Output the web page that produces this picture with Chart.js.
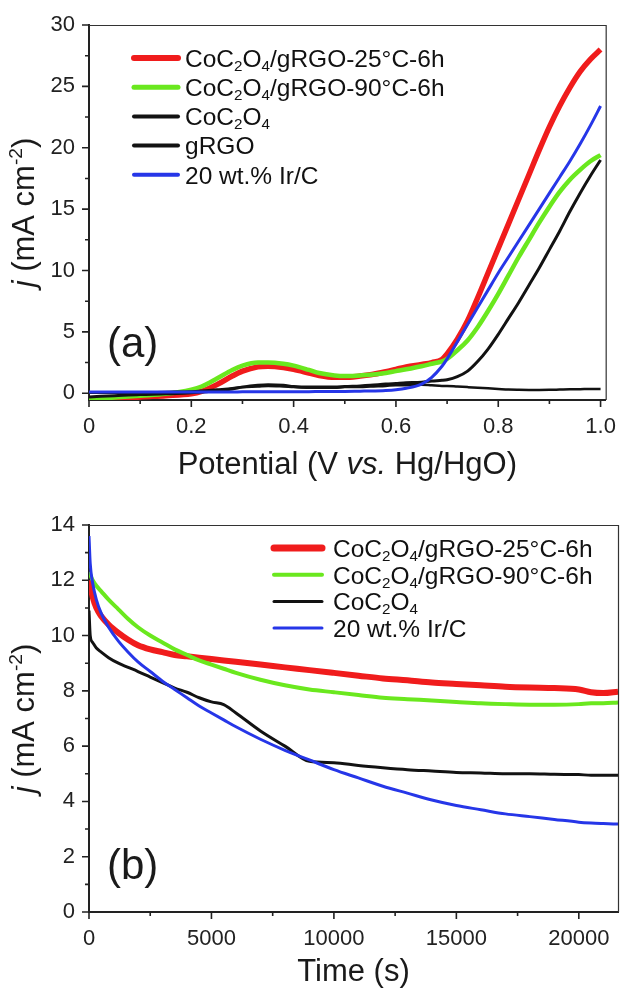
<!DOCTYPE html>
<html>
<head>
<meta charset="utf-8">
<script src="https://cdn.jsdelivr.net/npm/chart.js@4/dist/chart.umd.min.js"></script>
<style>
body { margin: 0; background: #fff; }
canvas { position: absolute; left: 0; }
#chartA { top: 0; }
#chartB { top: 500px; }
</style>
</head>
<body>
<canvas id="chartA" width="632" height="500"></canvas>
<canvas id="chartB" width="632" height="499"></canvas>
<script>
const FONT = "'Liberation Sans', Arial, Helvetica, sans-serif";

// ---- (a) LSV curves ----
const potential = [0, 0.05, 0.1, 0.15, 0.2, 0.22, 0.25, 0.28, 0.3, 0.33, 0.35, 0.38, 0.4, 0.43, 0.45, 0.48, 0.5, 0.53, 0.55, 0.58, 0.6, 0.62, 0.65, 0.67, 0.69, 0.7, 0.72, 0.74, 0.76, 0.78, 0.8, 0.82, 0.84, 0.86, 0.88, 0.9, 0.92, 0.94, 0.96, 0.98, 1.0];
const lsvRed25 = [-0.6, -0.45, -0.3, -0.2, -0.05, 0.15, 0.7, 1.4, 1.8, 2.15, 2.2, 2.1, 1.95, 1.65, 1.45, 1.3, 1.3, 1.4, 1.5, 1.75, 1.95, 2.15, 2.35, 2.5, 2.75, 3.2, 4.4, 5.9, 7.8, 9.8, 11.8, 13.8, 15.8, 17.8, 19.8, 21.7, 23.4, 24.9, 26.2, 27.2, 28.0];
const lsvGreen90 = [-0.5, -0.35, -0.2, -0.05, 0.3, 0.55, 1.2, 1.9, 2.25, 2.5, 2.5, 2.4, 2.25, 1.9, 1.65, 1.45, 1.4, 1.45, 1.5, 1.65, 1.8, 1.95, 2.2, 2.4, 2.6, 2.8, 3.5, 4.3, 5.4, 6.7, 8.1, 9.6, 11.1, 12.5, 13.9, 15.2, 16.4, 17.4, 18.2, 18.9, 19.4];
const lsvCoC2O4 = [-0.3, -0.2, -0.1, -0.05, 0.05, 0.1, 0.2, 0.35, 0.5, 0.65, 0.7, 0.65, 0.55, 0.5, 0.5, 0.5, 0.55, 0.6, 0.65, 0.75, 0.8, 0.85, 0.9, 1.0, 1.05, 1.1, 1.35, 1.8, 2.6, 3.6, 4.8, 6.1, 7.4, 8.8, 10.2, 11.7, 13.2, 14.8, 16.3, 17.7, 19.0];
const lsvGRGO = [0.05, 0.05, 0.05, 0.1, 0.15, 0.2, 0.3, 0.4, 0.5, 0.55, 0.6, 0.55, 0.5, 0.45, 0.45, 0.45, 0.5, 0.5, 0.55, 0.6, 0.65, 0.65, 0.7, 0.65, 0.6, 0.6, 0.55, 0.5, 0.45, 0.4, 0.35, 0.3, 0.28, 0.27, 0.27, 0.28, 0.3, 0.32, 0.33, 0.35, 0.35];
const lsvIrC = [0.1, 0.1, 0.1, 0.1, 0.1, 0.1, 0.1, 0.1, 0.12, 0.12, 0.12, 0.12, 0.13, 0.13, 0.14, 0.15, 0.15, 0.17, 0.18, 0.22, 0.28, 0.4, 0.75, 1.3, 2.2, 2.8, 4.2, 5.6, 7.0, 8.4, 9.8, 11.1, 12.4, 13.7, 15.0, 16.3, 17.6, 18.9, 20.3, 21.8, 23.4];
const seriesNamesA = ['CoC_{2}O_{4}/gRGO-25°C-6h', 'CoC_{2}O_{4}/gRGO-90°C-6h', 'CoC_{2}O_{4}', 'gRGO', '20 wt.% Ir/C'];
const ticksAX = [0, 0.2, 0.4, 0.6, 0.8, 1.0];
const tickLabelsAX = ['0', '0.2', '0.4', '0.6', '0.8', '1.0'];
const ticksAY = [0, 5, 10, 15, 20, 25, 30];

// ---- (b) chronoamperometry ----
const time = [0, 50, 150, 300, 500, 800, 1200, 1600, 2000, 2500, 3000, 3500, 4000, 4500, 5000, 5500, 6000, 7000, 8000, 9000, 10000, 11000, 12000, 13000, 14000, 15000, 16000, 17000, 18000, 19000, 20000, 20500, 21000, 21600];
const itRed25 = [12.0, 11.8, 11.4, 11.0, 10.7, 10.4, 10.1, 9.85, 9.65, 9.5, 9.4, 9.3, 9.25, 9.2, 9.15, 9.1, 9.05, 8.95, 8.85, 8.75, 8.65, 8.55, 8.45, 8.38, 8.3, 8.25, 8.2, 8.15, 8.12, 8.1, 8.05, 7.95, 7.92, 7.97];
const itGreen90 = [12.3, 12.2, 12.0, 11.8, 11.6, 11.3, 10.95, 10.6, 10.3, 10.0, 9.75, 9.5, 9.3, 9.1, 8.95, 8.8, 8.65, 8.4, 8.2, 8.05, 7.95, 7.85, 7.75, 7.7, 7.65, 7.6, 7.55, 7.52, 7.5, 7.5, 7.52, 7.55, 7.55, 7.58];
const itCoC2O4 = [10.9, 10.0, 9.75, 9.55, 9.4, 9.2, 9.0, 8.85, 8.7, 8.5, 8.3, 8.1, 7.95, 7.75, 7.6, 7.5, 7.2, 6.55, 6.0, 5.45, 5.4, 5.3, 5.22, 5.15, 5.1, 5.05, 5.03, 5.0, 5.0, 4.98, 4.97, 4.95, 4.95, 4.95];
const itIrC = [13.6, 12.6, 11.9, 11.3, 10.8, 10.3, 9.8, 9.4, 9.05, 8.7, 8.35, 8.05, 7.75, 7.45, 7.2, 6.95, 6.7, 6.25, 5.85, 5.5, 5.15, 4.85, 4.55, 4.3, 4.05, 3.85, 3.7, 3.55, 3.45, 3.35, 3.25, 3.22, 3.2, 3.18];
const seriesNamesB = ['CoC_{2}O_{4}/gRGO-25°C-6h', 'CoC_{2}O_{4}/gRGO-90°C-6h', 'CoC_{2}O_{4}', '20 wt.% Ir/C'];
const ticksBX = [0, 5000, 10000, 15000, 20000];
const ticksBY = [0, 2, 4, 6, 8, 10, 12, 14];

const RED = '#f01c1c', GREEN = '#6ae81e', BLACK = '#121212', BLUE = '#2636e8';

// tiny rich text: _{sub} ^{sup} *italic*
function parseRich(s) {
  const segs = [];
  const re = /_\{([^}]*)\}|\^\{([^}]*)\}|\*([^*]*)\*|([^_^*]+)/g;
  let m;
  while ((m = re.exec(s))) {
    if (m[1] !== undefined) segs.push({t: m[1], mode: 'sub'});
    else if (m[2] !== undefined) segs.push({t: m[2], mode: 'sup'});
    else if (m[3] !== undefined) segs.push({t: m[3], mode: 'it'});
    else segs.push({t: m[4], mode: ''});
  }
  return segs;
}
function segFont(g, size) {
  const sz = (g.mode === 'sub' || g.mode === 'sup') ? size * 0.62 : size;
  return (g.mode === 'it' ? 'italic ' : '') + sz + 'px ' + FONT;
}
function drawRich(ctx, s, x, y, size, align) {
  const segs = parseRich(s);
  let w = 0;
  segs.forEach(g => { ctx.font = segFont(g, size); g.w = ctx.measureText(g.t).width; w += g.w; });
  let cx = align === 'center' ? x - w / 2 : x;
  ctx.textAlign = 'left';
  ctx.textBaseline = 'alphabetic';
  segs.forEach(g => {
    ctx.font = segFont(g, size);
    const dy = g.mode === 'sub' ? size * 0.17 : g.mode === 'sup' ? -size * 0.38 : 0;
    ctx.fillText(g.t, cx, y + dy);
    cx += g.w;
  });
}

function mids(arr) {
  const out = [];
  for (let i = 0; i < arr.length - 1; i++) out.push((arr[i] + arr[i + 1]) / 2);
  return out;
}

const TITLE_SIZE = 31;
const LEGEND_SIZE = 24.5;

const framePlugin = {
  id: 'frame',
  afterDraw(chart, args, o) {
    const ctx = chart.ctx;
    const {left, right, top, bottom} = chart.chartArea;
    const xs = chart.scales.x, ys = chart.scales.y;
    ctx.save();
    ctx.strokeStyle = '#333';
    ctx.lineWidth = 1.2;
    ctx.beginPath();
    ctx.moveTo(left, top + 0.5);
    ctx.lineTo(right + 0.5, top + 0.5);
    ctx.lineTo(right + 0.5, bottom);
    ctx.stroke();

    ctx.strokeStyle = '#222';
    ctx.lineWidth = 1.6;
    ctx.beginPath();
    o.xMajor.forEach(v => { const p = xs.getPixelForValue(v); ctx.moveTo(p, bottom); ctx.lineTo(p, bottom + 7); });
    mids(o.xMajor).forEach(v => { const p = xs.getPixelForValue(v); ctx.moveTo(p, bottom); ctx.lineTo(p, bottom + 4); });
    o.yMajor.forEach(v => { const p = ys.getPixelForValue(v); ctx.moveTo(left, p); ctx.lineTo(left - 7, p); });
    mids(o.yMajor).forEach(v => { const p = ys.getPixelForValue(v); ctx.moveTo(left, p); ctx.lineTo(left - 4, p); });
    ctx.stroke();

    ctx.fillStyle = '#1a1a1a';
    drawRich(ctx, o.xTitle, (left + right) / 2, o.xTitleY, TITLE_SIZE, 'center');
    drawRich(ctx, o.panel, o.panelX, o.panelY, 42, 'left');

    // legend
    chart.data.datasets.forEach((ds, i) => {
      const y = o.legY + i * o.legGap;
      ctx.strokeStyle = ds.borderColor;
      ctx.lineWidth = o.legWidths[i];
      ctx.lineCap = 'round';
      ctx.beginPath();
      ctx.moveTo(o.legX0, y);
      ctx.lineTo(o.legX1, y);
      ctx.stroke();
      ctx.fillStyle = '#111';
      drawRich(ctx, ds.label, o.legTextX, y + 8.8, LEGEND_SIZE, 'left');
    });

    ctx.translate(o.yTitleX, (top + bottom) / 2);
    ctx.rotate(-Math.PI / 2);
    ctx.fillStyle = '#1a1a1a';
    drawRich(ctx, o.yTitle, 0, TITLE_SIZE * 0.36, TITLE_SIZE, 'center');
    ctx.restore();
  }
};

function line(label, xs, ys, color, width, order) {
  return {
    label: label,
    data: xs.map((x, i) => ({x: x, y: ys[i]})),
    borderColor: color,
    borderWidth: width,
    pointRadius: 0,
    cubicInterpolationMode: 'monotone',
    order: order
  };
}

function axes(xMin, xMax, xTicks, xLabel, yMin, yMax, yTicks, xHeight) {
  const tickFont = {family: FONT, size: 22, lineHeight: 1};
  return {
    x: {
      type: 'linear', min: xMin, max: xMax,
      afterBuildTicks: s => { s.ticks = xTicks.map(v => ({value: v})); },
      afterFit: s => { s.height = xHeight; },
      ticks: {font: tickFont, color: '#222', padding: 16, maxRotation: 0, callback: xLabel},
      grid: {display: false, drawTicks: false},
      border: {display: true, color: '#222', width: 2}
    },
    y: {
      type: 'linear', min: yMin, max: yMax,
      afterBuildTicks: s => { s.ticks = yTicks.map(v => ({value: v})); },
      afterFit: s => { s.width = 89; },
      ticks: {font: tickFont, color: '#222', padding: 14, callback: v => String(v)},
      grid: {display: false, drawTicks: false},
      border: {display: true, color: '#222', width: 2}
    }
  };
}

new Chart(document.getElementById('chartA').getContext('2d'), {
  type: 'line',
  data: {
    datasets: [
      line(seriesNamesA[0], potential, lsvRed25, RED, 5.5, 5),
      line(seriesNamesA[1], potential, lsvGreen90, GREEN, 4.5, 4),
      line(seriesNamesA[2], potential, lsvCoC2O4, BLACK, 3, 3),
      line(seriesNamesA[3], potential, lsvGRGO, BLACK, 2.5, 2),
      line(seriesNamesA[4], potential, lsvIrC, BLUE, 3, 1)
    ]
  },
  options: {
    responsive: false,
    animation: false,
    devicePixelRatio: 1,
    layout: {padding: {top: 12, right: 14, left: 0, bottom: 0}},
    scales: axes(0, 1.01, ticksAX, v => tickLabelsAX[ticksAX.indexOf(v)], -0.55, 30, ticksAY, 100),
    plugins: {
      legend: {display: false},
      tooltip: {enabled: false},
      frame: {
        xMajor: ticksAX, yMajor: ticksAY,
        xTitle: 'Potential (V *vs.* Hg/HgO)', xTitleY: 474,
        yTitle: '*j* (mA cm^{-2})', yTitleX: 23,
        panel: '(a)', panelX: 107, panelY: 357,
        legX0: 134, legX1: 178, legTextX: 185, legY: 58, legGap: 29.2,
        legWidths: [6, 5, 4, 4, 4]
      }
    }
  },
  plugins: [framePlugin]
});

new Chart(document.getElementById('chartB').getContext('2d'), {
  type: 'line',
  data: {
    datasets: [
      line(seriesNamesB[0], time, itRed25, RED, 6, 4),
      line(seriesNamesB[1], time, itGreen90, GREEN, 4, 3),
      line(seriesNamesB[2], time, itCoC2O4, BLACK, 3, 2),
      line(seriesNamesB[3], time, itIrC, BLUE, 3, 1)
    ]
  },
  options: {
    responsive: false,
    animation: false,
    devicePixelRatio: 1,
    layout: {padding: {top: 12, right: 14, left: 0, bottom: 0}},
    scales: axes(0, 21600, ticksBX, v => String(v), 0, 14, ticksBY, 87),
    plugins: {
      legend: {display: false},
      tooltip: {enabled: false},
      frame: {
        xMajor: ticksBX, yMajor: ticksBY,
        xTitle: 'Time (s)', xTitleY: 481,
        yTitle: '*j* (mA cm^{-2})', yTitleX: 23,
        panel: '(b)', panelX: 107, panelY: 379,
        legX0: 274, legX1: 322, legTextX: 333, legY: 48, legGap: 26.7,
        legWidths: [7, 4, 3, 3]
      }
    }
  },
  plugins: [framePlugin]
});
</script>
</body>
</html>
